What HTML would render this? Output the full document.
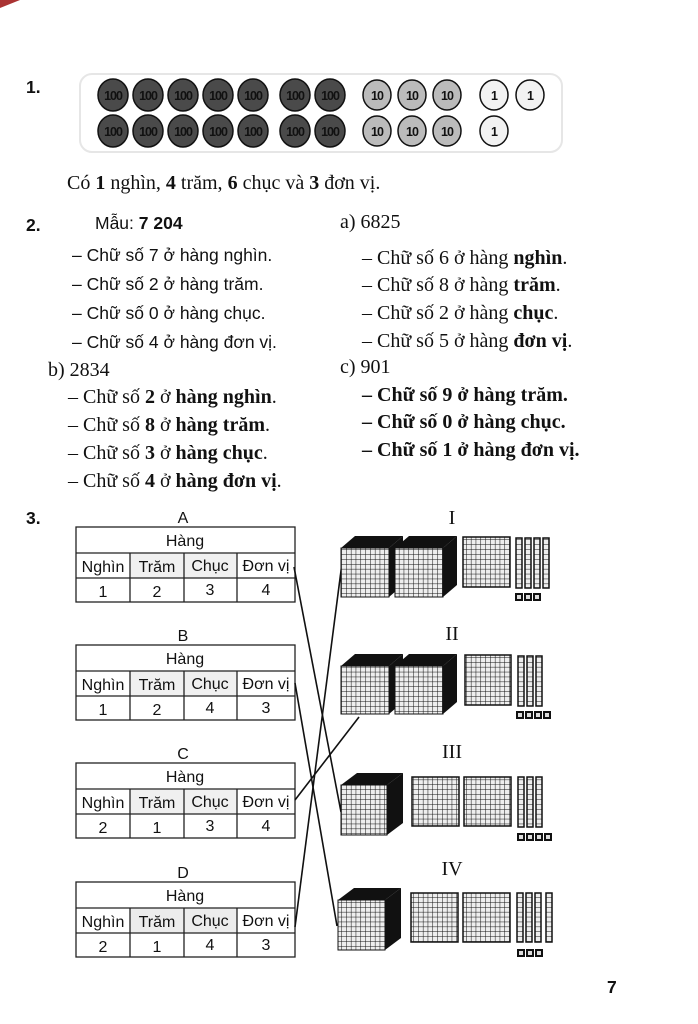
<!DOCTYPE html>
<html><head><meta charset="utf-8"><style>
html,body{margin:0;padding:0;background:#fff}
svg{display:block}
.s{font-family:"Liberation Serif",serif;font-size:20px;fill:#111}
.a{font-family:"Liberation Sans",sans-serif;font-size:17.5px;fill:#111}
.t{font-family:"Liberation Sans",sans-serif;font-size:16px;fill:#111;text-anchor:middle}
.c{font-family:"Liberation Sans",sans-serif;font-size:12.5px;font-weight:bold;text-anchor:middle;letter-spacing:-1px}
</style></head><body>
<svg width="698" height="1024" viewBox="0 0 698 1024" xmlns="http://www.w3.org/2000/svg">
<defs>
<pattern id="g" patternUnits="userSpaceOnUse" width="4.8" height="4.9" x="0.5" y="0.5">
<rect width="4.8" height="4.9" fill="#eee"/>
<path d="M0 0H4.8M0 0V4.9" stroke="#111" stroke-width="1"/>
</pattern>
<pattern id="r" patternUnits="userSpaceOnUse" width="6" height="4.9" y="0.5">
<rect width="6" height="4.9" fill="#eee"/>
<path d="M0 0H6" stroke="#111" stroke-width="1"/>
</pattern>
</defs>
<polygon points="0,0 20,0 0,8" fill="#a33"/>
<text x="26" y="93" class="a" font-weight="bold">1.</text>
<rect x="80" y="74" width="482" height="78" rx="12" fill="none" stroke="#e6e6e6" stroke-width="2"/>
<g stroke="#111" stroke-width="1.5">
<g fill="#4a4a4a">
<ellipse cx="113" cy="95" rx="15" ry="16"/><ellipse cx="148" cy="95" rx="15" ry="16"/><ellipse cx="183" cy="95" rx="15" ry="16"/><ellipse cx="218" cy="95" rx="15" ry="16"/><ellipse cx="253" cy="95" rx="15" ry="16"/><ellipse cx="295" cy="95" rx="15" ry="16"/><ellipse cx="330" cy="95" rx="15" ry="16"/>
<ellipse cx="113" cy="131" rx="15" ry="16"/><ellipse cx="148" cy="131" rx="15" ry="16"/><ellipse cx="183" cy="131" rx="15" ry="16"/><ellipse cx="218" cy="131" rx="15" ry="16"/><ellipse cx="253" cy="131" rx="15" ry="16"/><ellipse cx="295" cy="131" rx="15" ry="16"/><ellipse cx="330" cy="131" rx="15" ry="16"/>
</g>
<g fill="#bbb">
<ellipse cx="377" cy="95" rx="14" ry="15"/><ellipse cx="412" cy="95" rx="14" ry="15"/><ellipse cx="447" cy="95" rx="14" ry="15"/>
<ellipse cx="377" cy="131" rx="14" ry="15"/><ellipse cx="412" cy="131" rx="14" ry="15"/><ellipse cx="447" cy="131" rx="14" ry="15"/>
</g>
<g fill="#f2f2f2">
<ellipse cx="494" cy="95" rx="14" ry="15"/><ellipse cx="530" cy="95" rx="14" ry="15"/><ellipse cx="494" cy="131" rx="14" ry="15"/>
</g>
</g>
<g fill="#111">
<text x="113" y="100" class="c">100</text><text x="148" y="100" class="c">100</text><text x="183" y="100" class="c">100</text><text x="218" y="100" class="c">100</text><text x="253" y="100" class="c">100</text><text x="295" y="100" class="c">100</text><text x="330" y="100" class="c">100</text>
<text x="113" y="136" class="c">100</text><text x="148" y="136" class="c">100</text><text x="183" y="136" class="c">100</text><text x="218" y="136" class="c">100</text><text x="253" y="136" class="c">100</text><text x="295" y="136" class="c">100</text><text x="330" y="136" class="c">100</text>
<text x="377" y="100" class="c">10</text><text x="412" y="100" class="c">10</text><text x="447" y="100" class="c">10</text>
<text x="377" y="136" class="c">10</text><text x="412" y="136" class="c">10</text><text x="447" y="136" class="c">10</text>
<text x="494" y="100" class="c">1</text><text x="530" y="100" class="c">1</text><text x="494" y="136" class="c">1</text>
</g>
<text x="67" y="189" class="s">Có <tspan font-weight="bold">1</tspan> nghìn, <tspan font-weight="bold">4</tspan> trăm, <tspan font-weight="bold">6</tspan> chục và <tspan font-weight="bold">3</tspan> đơn vị.</text>
<text x="26" y="231" class="a" font-weight="bold">2.</text>
<text x="95" y="229" class="a">Mẫu:  <tspan font-weight="bold">7 204</tspan></text>
<text x="72" y="261" class="a">– Chữ số 7 ở hàng nghìn.</text>
<text x="72" y="290" class="a">– Chữ số 2 ở hàng trăm.</text>
<text x="72" y="319" class="a">– Chữ số 0 ở hàng chục.</text>
<text x="72" y="348" class="a">– Chữ số 4 ở hàng đơn vị.</text>
<text x="48" y="376" class="s" font-size="19">b) 2834</text>
<g class="s" font-size="19.5">
<text x="68" y="403">– Chữ số <tspan font-weight="bold">2</tspan> ở <tspan font-weight="bold">hàng nghìn</tspan>.</text>
<text x="68" y="431">– Chữ số <tspan font-weight="bold">8</tspan> ở <tspan font-weight="bold">hàng trăm</tspan>.</text>
<text x="68" y="459">– Chữ số <tspan font-weight="bold">3</tspan> ở <tspan font-weight="bold">hàng chục</tspan>.</text>
<text x="68" y="487">– Chữ số <tspan font-weight="bold">4</tspan> ở <tspan font-weight="bold">hàng đơn vị</tspan>.</text>
</g>
<text x="340" y="228" class="s" font-size="19">a) 6825</text>
<g class="s" font-size="20">
<text x="362" y="264">– Chữ số 6 ở hàng <tspan font-weight="bold">nghìn</tspan>.</text>
<text x="362" y="291">– Chữ số 8 ở hàng <tspan font-weight="bold">trăm</tspan>.</text>
<text x="362" y="319">– Chữ số 2 ở hàng <tspan font-weight="bold">chục</tspan>.</text>
<text x="362" y="347">– Chữ số 5 ở hàng <tspan font-weight="bold">đơn vị</tspan>.</text>
</g>
<text x="340" y="373" class="s" font-size="19">c) 901</text>
<g class="s" font-weight="bold" font-size="20.5">
<text x="362" y="401">– Chữ số 9 ở hàng trăm.</text>
<text x="362" y="428">– Chữ số 0 ở hàng chục.</text>
<text x="362" y="456">– Chữ số 1 ở hàng đơn vị.</text>
</g>
<text x="26" y="524" class="a" font-weight="bold">3.</text>
<g>
<text x="183" y="523" class="t" font-size="17">A</text>
<rect x="130" y="553" width="107" height="25" fill="#f0f0f0"/>
<g fill="none" stroke="#222" stroke-width="1.3">
<rect x="76" y="527" width="219" height="75"/>
<path d="M76 553H295M76 578H295M130 553V602M184 553V602M237 553V602"/>
</g>
<text x="185" y="546" class="t" font-size="15">Hàng</text>
<text x="103" y="572" class="t">Nghìn</text><text x="157" y="572" class="t">Trăm</text><text x="210" y="571" class="t">Chục</text><text x="266" y="571" class="t">Đơn vị</text>
<text x="103" y="597" class="t" font-size="17">1</text><text x="157" y="597" class="t" font-size="17">2</text><text x="210" y="595" class="t" font-size="17">3</text><text x="266" y="595" class="t" font-size="17">4</text>
</g>
<g transform="translate(0,118)">
<text x="183" y="523" class="t" font-size="17">B</text>
<rect x="130" y="553" width="107" height="25" fill="#f0f0f0"/>
<g fill="none" stroke="#222" stroke-width="1.3">
<rect x="76" y="527" width="219" height="75"/>
<path d="M76 553H295M76 578H295M130 553V602M184 553V602M237 553V602"/>
</g>
<text x="185" y="546" class="t" font-size="15">Hàng</text>
<text x="103" y="572" class="t">Nghìn</text><text x="157" y="572" class="t">Trăm</text><text x="210" y="571" class="t">Chục</text><text x="266" y="571" class="t">Đơn vị</text>
<text x="103" y="597" class="t" font-size="17">1</text><text x="157" y="597" class="t" font-size="17">2</text><text x="210" y="595" class="t" font-size="17">4</text><text x="266" y="595" class="t" font-size="17">3</text>
</g>
<g transform="translate(0,236)">
<text x="183" y="523" class="t" font-size="17">C</text>
<rect x="130" y="553" width="107" height="25" fill="#f0f0f0"/>
<g fill="none" stroke="#222" stroke-width="1.3">
<rect x="76" y="527" width="219" height="75"/>
<path d="M76 553H295M76 578H295M130 553V602M184 553V602M237 553V602"/>
</g>
<text x="185" y="546" class="t" font-size="15">Hàng</text>
<text x="103" y="572" class="t">Nghìn</text><text x="157" y="572" class="t">Trăm</text><text x="210" y="571" class="t">Chục</text><text x="266" y="571" class="t">Đơn vị</text>
<text x="103" y="597" class="t" font-size="17">2</text><text x="157" y="597" class="t" font-size="17">1</text><text x="210" y="595" class="t" font-size="17">3</text><text x="266" y="595" class="t" font-size="17">4</text>
</g>
<g transform="translate(0,355)">
<text x="183" y="523" class="t" font-size="17">D</text>
<rect x="130" y="553" width="107" height="25" fill="#ececec"/>
<g fill="none" stroke="#222" stroke-width="1.3">
<rect x="76" y="527" width="219" height="75"/>
<path d="M76 553H295M76 578H295M130 553V602M184 553V602M237 553V602"/>
</g>
<text x="185" y="546" class="t" font-size="15">Hàng</text>
<text x="103" y="572" class="t">Nghìn</text><text x="157" y="572" class="t">Trăm</text><text x="210" y="571" class="t">Chục</text><text x="266" y="571" class="t">Đơn vị</text>
<text x="103" y="597" class="t" font-size="17">2</text><text x="157" y="597" class="t" font-size="17">1</text><text x="210" y="595" class="t" font-size="17">4</text><text x="266" y="595" class="t" font-size="17">3</text>
</g>
<g stroke="#111" stroke-width="1.6" fill="none">
<line x1="294" y1="567" x2="341" y2="812"/>
<line x1="295" y1="683" x2="337" y2="926"/>
<line x1="295" y1="800" x2="359" y2="717"/>
<line x1="295" y1="927" x2="342" y2="563"/>
</g>
<g class="s" font-size="17" text-anchor="middle">
<text x="452" y="524">I</text><text x="452" y="640">II</text><text x="452" y="758">III</text><text x="452" y="875">IV</text>
</g>
<g>
<polygon points="341,548 355,536 403,536 389,548" fill="#111"/><polygon points="389,548 403,536 403,585 389,597" fill="#111"/>
<rect x="341" y="548" width="48" height="49" fill="url(#g)" stroke="#111"/>
<polygon points="395,548 409,536 457,536 443,548" fill="#111"/><polygon points="443,548 457,536 457,585 443,597" fill="#111"/>
<rect x="395" y="548" width="48" height="49" fill="url(#g)" stroke="#111"/>
<rect x="463" y="537" width="47" height="50" fill="url(#g)" stroke="#111" stroke-width="1.5"/>
<rect x="516" y="538" width="6" height="50" fill="url(#r)" stroke="#111" stroke-width="1.5"/>
<rect x="525" y="538" width="6" height="50" fill="url(#r)" stroke="#111" stroke-width="1.5"/>
<rect x="534" y="538" width="6" height="50" fill="url(#r)" stroke="#111" stroke-width="1.5"/>
<rect x="543" y="538" width="6" height="50" fill="url(#r)" stroke="#111" stroke-width="1.5"/>
<rect x="516" y="594" width="6" height="6" fill="#ddd" stroke="#111" stroke-width="2"/>
<rect x="525" y="594" width="6" height="6" fill="#ddd" stroke="#111" stroke-width="2"/>
<rect x="534" y="594" width="6" height="6" fill="#ddd" stroke="#111" stroke-width="2"/>
</g>
<g>
<polygon points="341,666 355,654 403,654 389,666" fill="#111"/><polygon points="389,666 403,654 403,702 389,714" fill="#111"/>
<rect x="341" y="666" width="48" height="48" fill="url(#g)" stroke="#111"/>
<polygon points="395,666 409,654 457,654 443,666" fill="#111"/><polygon points="443,666 457,654 457,702 443,714" fill="#111"/>
<rect x="395" y="666" width="48" height="48" fill="url(#g)" stroke="#111"/>
<rect x="465" y="655" width="46" height="50" fill="url(#g)" stroke="#111" stroke-width="1.5"/>
<rect x="518" y="656" width="6" height="50" fill="url(#r)" stroke="#111" stroke-width="1.5"/>
<rect x="527" y="656" width="6" height="50" fill="url(#r)" stroke="#111" stroke-width="1.5"/>
<rect x="536" y="656" width="6" height="50" fill="url(#r)" stroke="#111" stroke-width="1.5"/>
<rect x="517" y="712" width="6" height="6" fill="#ddd" stroke="#111" stroke-width="2"/>
<rect x="526" y="712" width="6" height="6" fill="#ddd" stroke="#111" stroke-width="2"/>
<rect x="535" y="712" width="6" height="6" fill="#ddd" stroke="#111" stroke-width="2"/>
<rect x="544" y="712" width="6" height="6" fill="#ddd" stroke="#111" stroke-width="2"/>
</g>
<g>
<polygon points="341,785 357,773 403,773 387,785" fill="#111"/><polygon points="387,785 403,773 403,823 387,835" fill="#111"/>
<rect x="341" y="785" width="46" height="50" fill="url(#g)" stroke="#111"/>
<rect x="412" y="777" width="47" height="49" fill="url(#g)" stroke="#111" stroke-width="1.5"/>
<rect x="464" y="777" width="47" height="49" fill="url(#g)" stroke="#111" stroke-width="1.5"/>
<rect x="518" y="777" width="6" height="50" fill="url(#r)" stroke="#111" stroke-width="1.5"/>
<rect x="527" y="777" width="6" height="50" fill="url(#r)" stroke="#111" stroke-width="1.5"/>
<rect x="536" y="777" width="6" height="50" fill="url(#r)" stroke="#111" stroke-width="1.5"/>
<rect x="518" y="834" width="6" height="6" fill="#ddd" stroke="#111" stroke-width="2"/>
<rect x="527" y="834" width="6" height="6" fill="#ddd" stroke="#111" stroke-width="2"/>
<rect x="536" y="834" width="6" height="6" fill="#ddd" stroke="#111" stroke-width="2"/>
<rect x="545" y="834" width="6" height="6" fill="#ddd" stroke="#111" stroke-width="2"/>
</g>
<g>
<polygon points="338,900 354,888 401,888 385,900" fill="#111"/><polygon points="385,900 401,888 401,938 385,950" fill="#111"/>
<rect x="338" y="900" width="47" height="50" fill="url(#g)" stroke="#111"/>
<rect x="411" y="893" width="47" height="49" fill="url(#g)" stroke="#111" stroke-width="1.5"/>
<rect x="463" y="893" width="47" height="49" fill="url(#g)" stroke="#111" stroke-width="1.5"/>
<rect x="517" y="893" width="6" height="49" fill="url(#r)" stroke="#111" stroke-width="1.5"/>
<rect x="526" y="893" width="6" height="49" fill="url(#r)" stroke="#111" stroke-width="1.5"/>
<rect x="535" y="893" width="6" height="49" fill="url(#r)" stroke="#111" stroke-width="1.5"/>
<rect x="546" y="893" width="6" height="49" fill="url(#r)" stroke="#111" stroke-width="1.5"/>
<rect x="518" y="950" width="6" height="6" fill="#ddd" stroke="#111" stroke-width="2"/>
<rect x="527" y="950" width="6" height="6" fill="#ddd" stroke="#111" stroke-width="2"/>
<rect x="536" y="950" width="6" height="6" fill="#ddd" stroke="#111" stroke-width="2"/>
</g>
<text x="607" y="993" class="a" font-size="15" font-weight="bold">7</text>
</svg>
</body></html>
